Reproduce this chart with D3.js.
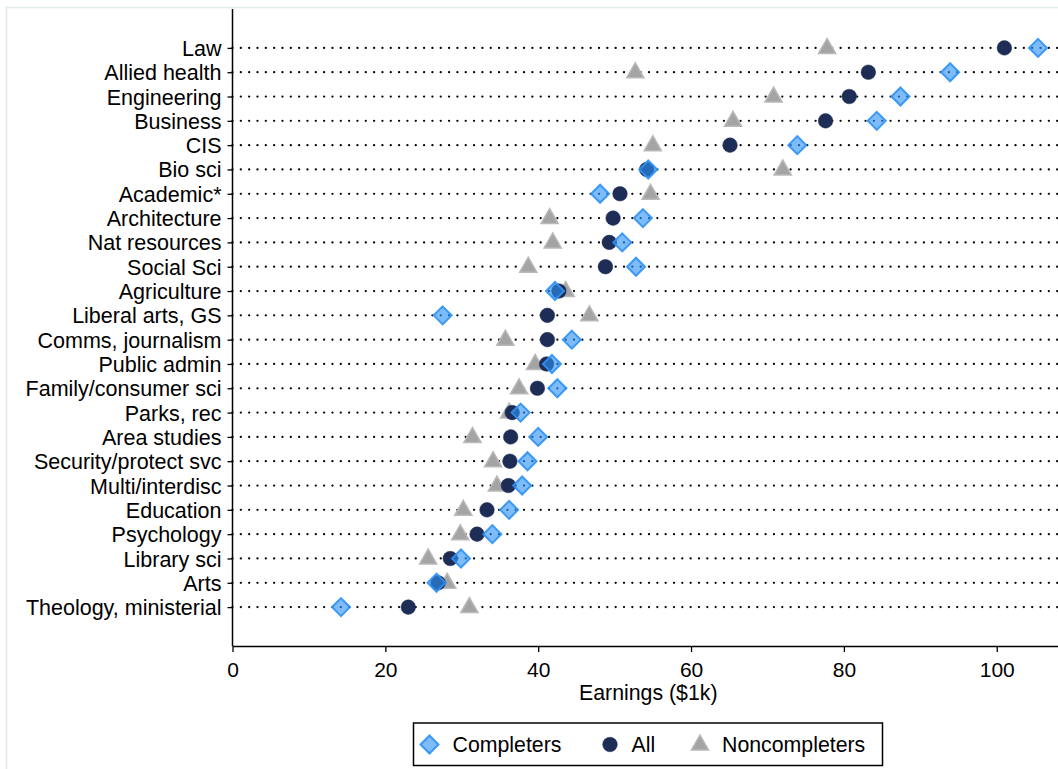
<!DOCTYPE html>
<html>
<head>
<meta charset="utf-8">
<script src="https://cdn.jsdelivr.net/npm/d3@7"></script>
<style>
  body { margin: 0; background: #fff; }
  text { font-family: Arial, "Liberation Sans", Helvetica, sans-serif; }
</style>
</head>
<body>
<script>
let majors = ['Law', 'Allied health', 'Engineering', 'Business', 'CIS', 'Bio sci', 'Academic*',
  'Architecture', 'Nat resources', 'Social Sci', 'Agriculture', 'Liberal arts, GS',
  'Comms, journalism', 'Public admin', 'Family/consumer sci', 'Parks, rec', 'Area studies',
  'Security/protect svc', 'Multi/interdisc', 'Education', 'Psychology', 'Library sci', 'Arts',
  'Theology, ministerial']

let completers = [105.4, 93.9, 87.4, 84.3, 73.9, 54.4, 48.1, 53.7, 51.0, 52.8, 42.2, 27.5,
  44.4, 41.8, 42.5, 37.7, 40.0, 38.6, 37.9, 36.2, 34.0, 29.9, 26.7, 14.2]
let allStudents = [101.0, 83.2, 80.7, 77.6, 65.1, 54.2, 50.7, 49.8, 49.3, 48.8, 42.7, 41.2,
  41.2, 41.1, 39.9, 36.6, 36.4, 36.3, 36.1, 33.3, 32.0, 28.5, 26.9, 23.0]
let noncompleters = [77.8, 52.7, 70.8, 65.5, 55.0, 72.0, 54.7, 41.5, 41.9, 38.7, 43.6, 46.7,
  35.7, 39.6, 37.5, 36.2, 31.4, 34.1, 34.6, 30.2, 29.8, 25.6, 28.1, 31.0]

let xTicks = [0, 20, 40, 60, 80, 100]
let legendLabels = ['Completers', 'All', 'Noncompleters']

width = 1058
height = 769
margin = ({ left: 232.5, right: 1064, top: 9, bottom: 646 })

let svg = d3.select('body')
  .append('svg')
  .attr('width', width)
  .attr('height', height)

// faint outer graph border (mostly cropped)
svg.append('rect')
  .attr('x', 6.5).attr('y', 7.5)
  .attr('width', 1200).attr('height', 900)
  .attr('fill', 'none')
  .attr('stroke', '#e2ecec')
  .attr('stroke-width', 1.5)

let x = d3.scaleLinear()
  .domain([0, 108.8])
  .range([margin.left, margin.right])

let y = d3.scalePoint()
  .domain(majors)
  .range([margin.top, margin.bottom])
  .padding(1.6)

// dotted guide lines
svg.append('g')
  .selectAll('line')
  .data(majors)
  .join('line')
    .attr('x1', x(0))
    .attr('x2', margin.right)
    .attr('y1', d => y(d))
    .attr('y2', d => y(d))
    .attr('stroke', '#000')
    .attr('stroke-width', 2.3)
    .attr('stroke-linecap', 'round')
    .attr('stroke-dasharray', '0 8.33')

let diamond = 'M0,-9L9,0L0,9L-9,0Z'
let triangle = 'M0,-9.5L8.6,5.5L-8.6,5.5Z'

let styles = {
  non: { fill: '#a4a4a4', stroke: '#b9b9b9', width: 1.5, op: 1, sop: 1 },
  all: { fill: '#1e2d56', stroke: '#1e2d56', width: 0.5, op: 1, sop: 1 },
  comp: { fill: '#2d91f5', stroke: '#2d91f5', width: 2, op: 0.62, sop: 0.9 }
}

function marks(values, path, st) {
  svg.append('g')
    .selectAll('path')
    .data(values)
    .join('path')
      .attr('transform', (d, i) => `translate(${x(d)},${y(majors[i])})`)
      .attr('d', path)
      .attr('fill', st.fill)
      .attr('fill-opacity', st.op)
      .attr('stroke', st.stroke)
      .attr('stroke-opacity', st.sop)
      .attr('stroke-width', st.width)
}

let circle = d3.symbol(d3.symbolCircle, Math.PI * 7.3 * 7.3)()

marks(noncompleters, triangle, styles.non)
marks(allStudents, circle, styles.all)
marks(completers, diamond, styles.comp)

// axes
let yAxis = svg.append('g')
  .attr('transform', `translate(${x(0)},0)`)
  .call(d3.axisLeft(y).tickSize(5).tickPadding(6).tickSizeOuter(0))
yAxis.select('.domain').attr('d', `M0,${margin.top}V${margin.bottom}`).attr('stroke-width', 1.5)
yAxis.selectAll('.tick line').attr('stroke-width', 1.3)
yAxis.selectAll('text')
  .attr('font-size', 21.5)
  .attr('fill', '#000')
  .attr('dy', '0.35em')
  .style('font-family', 'Arial, "Liberation Sans", sans-serif')

let xAxis = svg.append('g')
  .attr('transform', `translate(0,${margin.bottom})`)
  .call(d3.axisBottom(x).tickValues(xTicks).tickSize(6).tickPadding(10).tickSizeOuter(0))
xAxis.select('.domain').attr('stroke-width', 1.5)
xAxis.selectAll('.tick line').attr('stroke-width', 1.3)
xAxis.selectAll('text')
  .attr('font-size', 21)
  .attr('fill', '#000')
  .style('font-family', 'Arial, "Liberation Sans", sans-serif')

svg.append('text')
  .attr('x', (margin.left + margin.right) / 2)
  .attr('y', 700)
  .attr('text-anchor', 'middle')
  .attr('font-size', 21.3)
  .text('Earnings ($1k)')

// legend
let lg = svg.append('g')
lg.append('rect')
  .attr('x', 413.5).attr('y', 723)
  .attr('width', 469).attr('height', 42.5)
  .attr('fill', '#fff')
  .attr('stroke', '#000')
  .attr('stroke-width', 1.5)

let legendItems = [
  { sx: 429.5, tx: 452.5, path: diamond, st: styles.comp },
  { sx: 610, tx: 631.5, path: circle, st: styles.all },
  { sx: 700, tx: 722, path: triangle, st: styles.non }
]
legendItems.forEach((it, i) => {
  lg.append('path')
    .attr('transform', `translate(${it.sx},744.5)`)
    .attr('d', it.path)
    .attr('fill', it.st.fill)
    .attr('fill-opacity', it.st.op)
    .attr('stroke', it.st.stroke)
    .attr('stroke-opacity', it.st.sop)
    .attr('stroke-width', it.st.width)
  lg.append('text')
    .attr('x', it.tx)
    .attr('y', 752)
    .attr('font-size', 21.3)
    .text(legendLabels[i])
})
</script>
</body>
</html>
